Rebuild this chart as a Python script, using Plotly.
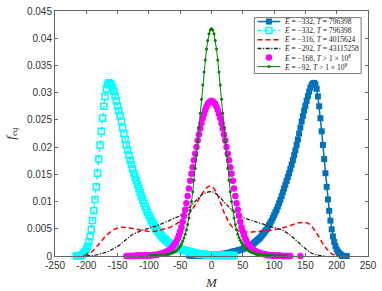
import plotly.graph_objects as go

# ---------------- data (probability f_eq versus magnetisation M) ----------------
# blue: E=-332, T=796398 ; M from -36 to 216, step 2
blue_M0 = -36
blue_f = [
    0.0001, 0.0001, 0.0001, 0.0001, 0.0001, 0.0001, 0.0001, 0.0001, 0.0001, 0.0001,  # -36..-18
    0.0001, 0.0001, 0.0001, 0.0001, 0.0001, 0.0001, 0.0001, 0.0001, 0.0002, 0.0002,  # -16..2
    0.0002, 0.0002, 0.0002, 0.0003, 0.0003, 0.0003, 0.0003, 0.0004, 0.0004, 0.0004,  # 4..22
    0.0005, 0.0005, 0.0006, 0.0006, 0.0007, 0.0008, 0.0008, 0.0009, 0.0009, 0.0010,  # 24..42
    0.0011, 0.0011, 0.0012, 0.0013, 0.0014, 0.0015, 0.0016, 0.0017, 0.0018, 0.0019,  # 44..62
    0.0021, 0.0022, 0.0024, 0.0026, 0.0028, 0.0030, 0.0032, 0.0034, 0.0037, 0.0040,  # 64..82
    0.0043, 0.0046, 0.0049, 0.0053, 0.0057, 0.0061, 0.0065, 0.0070, 0.0075, 0.0080,  # 84..102
    0.0085, 0.0091, 0.0097, 0.0103, 0.0110, 0.0117, 0.0124, 0.0131, 0.0138, 0.0145,  # 104..122
    0.0152, 0.0160, 0.0168, 0.0176, 0.0185, 0.0194, 0.0204, 0.0214, 0.0225, 0.0236,  # 124..142
    0.0247, 0.0257, 0.0267, 0.0276, 0.0285, 0.0294, 0.0302, 0.0309, 0.0314, 0.0317,  # 144..162
    0.0318, 0.0315, 0.0307, 0.0293, 0.0275, 0.0253, 0.0229, 0.0204, 0.0178, 0.0152,  # 164..182
    0.0127, 0.0104, 0.0083, 0.0065, 0.0049, 0.0036, 0.0026, 0.0018, 0.0012, 0.0008,  # 184..202
    0.0005, 0.0003, 0.0001, 0.0000, 0.0000, 0.0000, 0.0000,                          # 204..216
]

# cyan: E=-332, T=796398 ; M from -216 to 36, step 2
cyan_M0 = -216
cyan_f = [
    0.0000, 0.0000, 0.0000, 0.0000, 0.0001, 0.0003, 0.0005, 0.0008, 0.0012, 0.0018,  # -216..-198
    0.0026, 0.0036, 0.0049, 0.0065, 0.0083, 0.0104, 0.0127, 0.0152, 0.0178, 0.0204,  # -196..-178
    0.0229, 0.0253, 0.0275, 0.0293, 0.0307, 0.0315, 0.0318, 0.0317, 0.0314, 0.0309,  # -176..-158
    0.0302, 0.0294, 0.0285, 0.0276, 0.0267, 0.0257, 0.0247, 0.0236, 0.0225, 0.0214,  # -156..-138
    0.0204, 0.0194, 0.0185, 0.0176, 0.0168, 0.0160, 0.0152, 0.0145, 0.0138, 0.0131,  # -136..-118
    0.0124, 0.0117, 0.0110, 0.0103, 0.0097, 0.0091, 0.0085, 0.0080, 0.0075, 0.0070,  # -116..-98
    0.0065, 0.0061, 0.0057, 0.0053, 0.0049, 0.0046, 0.0043, 0.0040, 0.0037, 0.0034,  # -96..-78
    0.0032, 0.0030, 0.0028, 0.0026, 0.0024, 0.0022, 0.0021, 0.0019, 0.0018, 0.0017,  # -76..-58
    0.0016, 0.0015, 0.0014, 0.0013, 0.0012, 0.0011, 0.0011, 0.0010, 0.0009, 0.0009,  # -56..-38
    0.0008, 0.0008, 0.0007, 0.0006, 0.0006, 0.0005, 0.0005, 0.0004, 0.0004, 0.0004,  # -36..-18
    0.0003, 0.0003, 0.0003, 0.0003, 0.0002, 0.0002, 0.0002, 0.0002, 0.0002, 0.0001,  # -16..2
    0.0001, 0.0001, 0.0001, 0.0001, 0.0001, 0.0001, 0.0001, 0.0001, 0.0001, 0.0001,  # 4..22
    0.0001, 0.0001, 0.0001, 0.0001, 0.0001, 0.0001, 0.0001,                          # 24..36
]

# red dashed: E=-316, T=4015624 ; M from -204 to 200, step 4
red_M0 = -204
red_f = [
    0.0000, 0.0002, 0.0004, 0.0007, 0.0011, 0.0016, 0.0021, 0.0027, 0.0033, 0.0038,  # -204..-168
    0.0042, 0.0046, 0.0049, 0.0051, 0.0052, 0.0053, 0.0053, 0.0053, 0.0052, 0.0051,  # -164..-128
    0.0050, 0.0049, 0.0048, 0.0047, 0.0046, 0.0045, 0.0045, 0.0045, 0.0045, 0.0046,  # -124..-88
    0.0047, 0.0048, 0.0049, 0.0050, 0.0052, 0.0054, 0.0056, 0.0059, 0.0062, 0.0065,  # -84..-48
    0.0068, 0.0072, 0.0077, 0.0083, 0.0090, 0.0097, 0.0105, 0.0113, 0.0120, 0.0125,  # -44..-8
    0.0128, 0.0128, 0.0124, 0.0117, 0.0106, 0.0093, 0.0080, 0.0069, 0.0061, 0.0055,  # -4..32
    0.0051, 0.0048, 0.0046, 0.0045, 0.0044, 0.0044, 0.0044, 0.0044, 0.0044, 0.0045,  # 36..72
    0.0045, 0.0046, 0.0046, 0.0047, 0.0047, 0.0048, 0.0048, 0.0049, 0.0050, 0.0051,  # 76..112
    0.0052, 0.0053, 0.0055, 0.0057, 0.0059, 0.0060, 0.0061, 0.0062, 0.0062, 0.0061,  # 116..152
    0.0059, 0.0055, 0.0049, 0.0042, 0.0034, 0.0026, 0.0019, 0.0013, 0.0008, 0.0004,  # 156..192
    0.0002, 0.0000,                                                                  # 196..200
]

# black dash-dot: E=-292, T=43115258 ; M from -200 to 180, step 4
black_M0 = -200
black_f = [
    0.0000, 0.0000, 0.0001, 0.0001, 0.0002, 0.0003, 0.0004, 0.0005, 0.0007, 0.0009,  # -200..-164
    0.0011, 0.0013, 0.0016, 0.0019, 0.0023, 0.0027, 0.0031, 0.0035, 0.0038, 0.0041,  # -160..-124
    0.0043, 0.0045, 0.0047, 0.0049, 0.0050, 0.0051, 0.0053, 0.0054, 0.0055, 0.0057,  # -120..-84
    0.0058, 0.0060, 0.0062, 0.0064, 0.0066, 0.0068, 0.0070, 0.0073, 0.0076, 0.0080,  # -80..-44
    0.0084, 0.0088, 0.0093, 0.0098, 0.0103, 0.0108, 0.0112, 0.0115, 0.0117, 0.0118,  # -40..-4
    0.0118, 0.0117, 0.0114, 0.0110, 0.0105, 0.0099, 0.0094, 0.0089, 0.0085, 0.0081,  # 0..36
    0.0078, 0.0075, 0.0072, 0.0070, 0.0068, 0.0067, 0.0065, 0.0064, 0.0062, 0.0061,  # 40..76
    0.0059, 0.0058, 0.0056, 0.0055, 0.0053, 0.0052, 0.0051, 0.0050, 0.0048, 0.0046,  # 80..116
    0.0043, 0.0040, 0.0036, 0.0032, 0.0029, 0.0024, 0.0019, 0.0015, 0.0011, 0.0008,  # 120..156
    0.0005, 0.0003, 0.0002, 0.0001, 0.0001, 0.0000,                                  # 160..180
]

# magenta dots: E=-168, T>1e8 ; M from -136 to 126, step 2, plus an isolated point
mag_M0 = -136
mag_f = [
    0.0000, 0.0000, 0.0000, 0.0000, 0.0000, 0.0000, 0.0000, 0.0000, 0.0001, 0.0001,  # -136..-118
    0.0001, 0.0001, 0.0001, 0.0001, 0.0001, 0.0001, 0.0001, 0.0001, 0.0001, 0.0001,  # -116..-98
    0.0001, 0.0002, 0.0002, 0.0002, 0.0002, 0.0003, 0.0003, 0.0004, 0.0004, 0.0005,  # -96..-78
    0.0006, 0.0007, 0.0008, 0.0009, 0.0010, 0.0012, 0.0014, 0.0017, 0.0020, 0.0023,  # -76..-58
    0.0027, 0.0032, 0.0038, 0.0045, 0.0053, 0.0063, 0.0074, 0.0085, 0.0097, 0.0110,  # -56..-38
    0.0124, 0.0138, 0.0151, 0.0163, 0.0176, 0.0188, 0.0200, 0.0212, 0.0223, 0.0234,  # -36..-18
    0.0244, 0.0253, 0.0261, 0.0268, 0.0274, 0.0279, 0.0282, 0.0284, 0.0285, 0.0284,  # -16..2
    0.0282, 0.0279, 0.0274, 0.0268, 0.0261, 0.0253, 0.0244, 0.0234, 0.0223, 0.0212,  # 4..22
    0.0200, 0.0188, 0.0176, 0.0163, 0.0151, 0.0138, 0.0124, 0.0110, 0.0097, 0.0085,  # 24..42
    0.0074, 0.0063, 0.0053, 0.0045, 0.0038, 0.0032, 0.0027, 0.0023, 0.0020, 0.0017,  # 44..62
    0.0014, 0.0012, 0.0010, 0.0009, 0.0008, 0.0007, 0.0006, 0.0005, 0.0004, 0.0004,  # 64..82
    0.0003, 0.0003, 0.0002, 0.0002, 0.0002, 0.0002, 0.0001, 0.0001, 0.0001, 0.0001,  # 84..102
    0.0001, 0.0001, 0.0001, 0.0001, 0.0000, 0.0000, 0.0000, 0.0000, 0.0000, 0.0000,  # 104..122
    0.0000, 0.0000,                                                                  # 124..126
]
mag_extra_M = [142]
mag_extra_f = [0.0000]

# green: E=-92, T>1e8 ; M from -100 to 120, step 2
green_M0 = -100
green_f = [
    0.0001, 0.0001, 0.0001, 0.0001, 0.0001, 0.0001, 0.0001, 0.0001, 0.0001, 0.0001,  # -100..-82
    0.0002, 0.0002, 0.0002, 0.0002, 0.0002, 0.0003, 0.0003, 0.0004, 0.0005, 0.0006,  # -80..-62
    0.0007, 0.0008, 0.0010, 0.0012, 0.0015, 0.0018, 0.0022, 0.0027, 0.0033, 0.0040,  # -60..-42
    0.0048, 0.0058, 0.0070, 0.0084, 0.0100, 0.0118, 0.0139, 0.0161, 0.0185, 0.0210,  # -40..-22
    0.0236, 0.0262, 0.0288, 0.0314, 0.0338, 0.0360, 0.0380, 0.0396, 0.0408, 0.0415,  # -20..-2
    0.0418, 0.0415, 0.0408, 0.0396, 0.0380, 0.0360, 0.0338, 0.0314, 0.0288, 0.0262,  # 0..18
    0.0236, 0.0210, 0.0185, 0.0161, 0.0139, 0.0118, 0.0100, 0.0084, 0.0070, 0.0058,  # 20..38
    0.0048, 0.0040, 0.0034, 0.0029, 0.0025, 0.0021, 0.0018, 0.0015, 0.0013, 0.0011,  # 40..58
    0.0009, 0.0008, 0.0007, 0.0006, 0.0005, 0.0004, 0.0003, 0.0003, 0.0003, 0.0003,  # 60..78
    0.0003, 0.0002, 0.0002, 0.0002, 0.0001, 0.0001, 0.0001, 0.0001, 0.0001, 0.0001,  # 80..98
    0.0001, 0.0000, 0.0000, 0.0000, 0.0000, 0.0000, 0.0000, 0.0000, 0.0000, 0.0000,  # 100..118
    0.0000,                                                                          # 120
]

legend_labels = [
    "<i>E</i> = \u2212332, <i>T</i> = 796398",
    "<i>E</i> = \u2212332, <i>T</i> = 796398",
    "<i>E</i> = \u2212316, <i>T</i> = 4015624",
    "<i>E</i> = \u2212292, <i>T</i> = 43115258",
    "<i>E</i> = \u2212168, <i>T</i> > 1 \u00d7 10<sup>8</sup>",
    "<i>E</i> = \u221292, <i>T</i> > 1 \u00d7 10<sup>8</sup>",
]

x_ticks = [-250, -200, -150, -100, -50, 0, 50, 100, 150, 200, 250]
x_ticktext = ["-250", "-200", "-150", "-100", "-50", "0", "50", "100", "150", "200", "250"]
y_ticks = [0, 0.005, 0.01, 0.015, 0.02, 0.025, 0.03, 0.035, 0.04, 0.045]
y_ticktext = ["0", "0.005", "0.01", "0.015", "0.02", "0.025", "0.03", "0.035", "0.04", "0.045"]


def axis_m(m0, step, vals):
    return [m0 + step * i for i in range(len(vals))]


BLUE = "#0072BD"
CYAN = "#00FFFF"
RED = "#FF0000"
BLACK = "#222222"
MAGENTA = "#FF00FF"
GREEN = "#008000"

fig = go.Figure()

fig.add_trace(go.Scatter(
    x=axis_m(blue_M0, 2, blue_f), y=blue_f, mode="lines+markers",
    line=dict(color=BLUE, width=1.5),
    marker=dict(symbol="square", size=6, color=BLUE, line=dict(width=0)),
    cliponaxis=False, showlegend=False))

fig.add_trace(go.Scatter(
    x=axis_m(cyan_M0, 2, cyan_f), y=cyan_f, mode="lines+markers",
    line=dict(color=CYAN, width=1.5, dash="4px,3px"),
    marker=dict(symbol="square-open", size=6, color=CYAN, line=dict(width=1.5, color=CYAN)),
    cliponaxis=False, showlegend=False))

fig.add_trace(go.Scatter(
    x=axis_m(red_M0, 4, red_f), y=red_f, mode="lines",
    line=dict(color=RED, width=1.5, dash="5px,3px"),
    cliponaxis=False, showlegend=False))

fig.add_trace(go.Scatter(
    x=axis_m(black_M0, 4, black_f), y=black_f, mode="lines",
    line=dict(color=BLACK, width=1.3, dash="4px,1.5px,1.2px,1.5px"),
    cliponaxis=False, showlegend=False))

fig.add_trace(go.Scatter(
    x=axis_m(mag_M0, 2, mag_f) + mag_extra_M, y=mag_f + mag_extra_f, mode="markers",
    marker=dict(symbol="circle", size=6.5, color=MAGENTA, line=dict(width=0)),
    cliponaxis=False, showlegend=False))

fig.add_trace(go.Scatter(
    x=axis_m(green_M0, 2, green_f), y=green_f, mode="lines+markers",
    line=dict(color=GREEN, width=1),
    marker=dict(symbol="circle", size=3, color=GREEN),
    cliponaxis=False, showlegend=False))

# ---------------- hand-made legend (compact, like the original) ----------------
leg_x0, leg_x1 = 0.637, 0.978
leg_y0, leg_y1 = 0.745, 0.973
row_y = [0.957, 0.920, 0.883, 0.847, 0.810, 0.773]
ls_x0, ls_x1, ls_xc, txt_x = 0.647, 0.720, 0.6835, 0.726

fig.add_shape(type="rect", xref="paper", yref="paper", x0=leg_x0, x1=leg_x1,
              y0=leg_y0, y1=leg_y1, line=dict(color="#777777", width=1),
              fillcolor="white", layer="below")

styles = [
    dict(line=dict(color=BLUE, width=1.5), marker=dict(symbol="square", size=6, color=BLUE)),
    dict(line=dict(color=CYAN, width=1.5, dash="4px,3px"),
         marker=dict(symbol="square-open", size=6, color=CYAN, line=dict(width=1.5, color=CYAN))),
    dict(line=dict(color=RED, width=1.5, dash="5px,3px"), marker=None),
    dict(line=dict(color=BLACK, width=1.3, dash="4px,1.5px,1.2px,1.5px"), marker=None),
    dict(line=None, marker=dict(symbol="circle", size=6.5, color=MAGENTA)),
    dict(line=dict(color=GREEN, width=1), marker=dict(symbol="circle", size=3, color=GREEN)),
]
for yy, st, lab in zip(row_y, styles, legend_labels):
    if st["line"] is not None:
        fig.add_trace(go.Scatter(x=[ls_x0, ls_x1], y=[yy, yy], mode="lines", line=st["line"],
                                 xaxis="x2", yaxis="y2", showlegend=False, hoverinfo="skip"))
    if st["marker"] is not None:
        fig.add_trace(go.Scatter(x=[ls_xc], y=[yy], mode="markers", marker=st["marker"],
                                 xaxis="x2", yaxis="y2", showlegend=False, hoverinfo="skip"))
    fig.add_annotation(x=txt_x, y=yy, xref="paper", yref="paper", text=lab, showarrow=False,
                       xanchor="left", yanchor="middle",
                       font=dict(family="Liberation Serif", size=7.5, color="#222222"))

# axis titles placed as annotations for precise positioning
fig.add_annotation(x=0.5, y=-0.108, xref="paper", yref="paper", text="<i>M</i>",
                   showarrow=False, xanchor="center", yanchor="middle",
                   font=dict(family="Liberation Serif", size=13, color="#333333"))
fig.add_annotation(x=-0.14, y=0.50, xref="paper", yref="paper", text="<i>f<sub>eq</sub></i>",
                   showarrow=False, xanchor="center", yanchor="middle", textangle=-90,
                   font=dict(family="Liberation Serif", size=13, color="#333333"))

axis_common = dict(showgrid=False, zeroline=False, showline=True, linecolor="#666666",
                   linewidth=1, mirror="ticks", ticks="inside", ticklen=3, tickcolor="#666666",
                   tickfont=dict(family="Liberation Sans", size=10, color="#333333"))

fig.update_layout(
    width=382, height=291,
    margin=dict(l=55, r=10, t=5, b=35),
    paper_bgcolor="white", plot_bgcolor="white",
    showlegend=False,
    xaxis=dict(range=[-250, 250], tickvals=x_ticks, ticktext=x_ticktext, **axis_common),
    yaxis=dict(range=[0, 0.045], tickvals=y_ticks, ticktext=y_ticktext, **axis_common),
    xaxis2=dict(range=[0, 1], overlaying="x", visible=False, fixedrange=True),
    yaxis2=dict(range=[0, 1], overlaying="y", visible=False, fixedrange=True),
)

fig.write_html("out.html",
               config={"displayModeBar": False, "staticPlot": True},
               post_script="document.body.style.margin='0px';"
                           "document.body.style.overflow='hidden';")
